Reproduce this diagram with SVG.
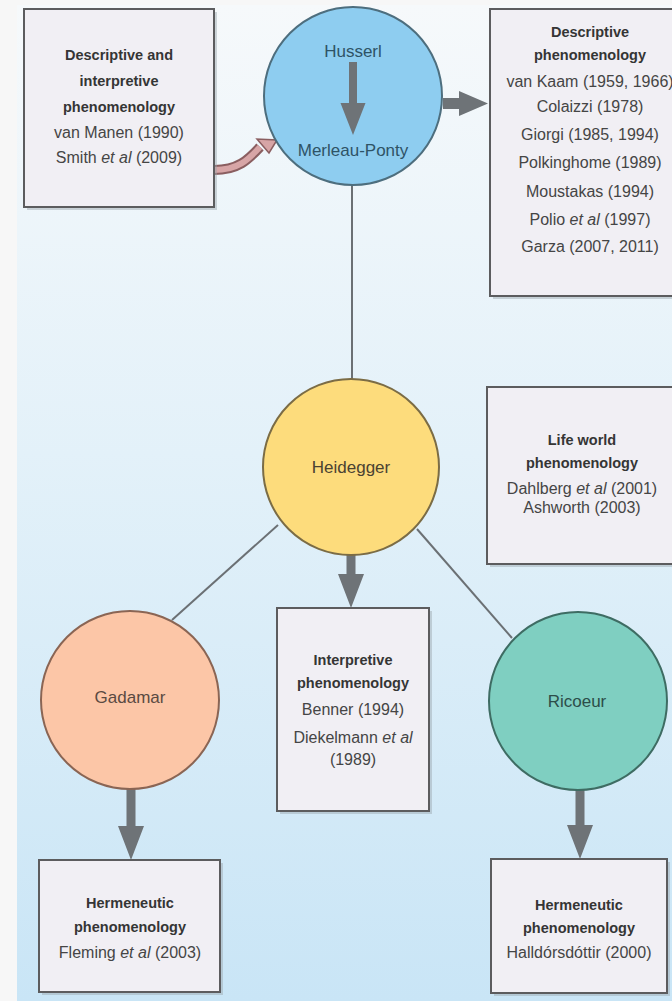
<svg xmlns="http://www.w3.org/2000/svg" width="672" height="1001" viewBox="0 0 672 1001">
<defs>
<linearGradient id="bg" x1="0" y1="0" x2="0" y2="1">
<stop offset="0" stop-color="#f6f9fb"/>
<stop offset="0.45" stop-color="#e3f1f9"/>
<stop offset="1" stop-color="#c9e5f6"/>
</linearGradient>
<style>
.box{fill:#f1eff4;stroke:#5c5c5e;stroke-width:2}
.shadow{fill:#9aa4ab;opacity:0.45}
.b{font-family:"Liberation Sans",Arial,sans-serif;font-weight:bold;font-size:14.5px;fill:#353535;text-anchor:middle}
.r{font-family:"Liberation Sans",Arial,sans-serif;font-size:16px;fill:#454545;text-anchor:middle}
.c{font-family:"Liberation Sans",Arial,sans-serif;font-size:17px;text-anchor:middle}
.ln{stroke:#6b7074;stroke-width:2;fill:none}
.ga{fill:#6e7377}
</style>
</defs>
<rect x="0" y="0" width="672" height="1001" fill="#f7f7f7"/>
<rect x="17" y="5" width="655" height="996" fill="url(#bg)"/>

<g id="connectors">
<line class="ln" x1="352" y1="185" x2="352" y2="379"/>
<line class="ln" x1="278" y1="525" x2="172" y2="620"/>
<line class="ln" x1="417" y1="529" x2="512" y2="638"/>
<polygon class="ga" points="443,98 459,98 459,91 488,103.5 459,116 459,109 443,109"/>
<polygon class="ga" points="346.5,555 355.5,555 355.5,574 364,574 351,608 338,574 346.5,574"/>
<polygon class="ga" points="126.5,789 135.5,789 135.5,826 144,826 131,860 118,826 126.5,826"/>
<polygon class="ga" points="575.5,790 584.5,790 584.5,825 593,825 580,859 567,825 575.5,825"/>
<path d="M214,170 C238,170 248,160 260,147" fill="none" stroke="#8a5e60" stroke-width="10"/>
<path d="M214,170 C238,170 248,160 260,147" fill="none" stroke="#d7a5a6" stroke-width="6"/>
<polygon points="277,140 269,153 257,139" fill="#d7a5a6" stroke="#8a5e60" stroke-width="1.5"/>
</g>

<g id="box-desc-interp">
<rect class="shadow" x="27" y="12" width="190" height="198"/>
<rect class="box" x="24" y="9" width="190" height="198"/>
<text class="b" x="119" y="60">Descriptive and</text>
<text class="b" x="119" y="86">interpretive</text>
<text class="b" x="119" y="112">phenomenology</text>
<text class="r" x="119" y="138">van Manen (1990)</text>
<text class="r" x="119" y="163">Smith <tspan font-style="italic">et al</tspan> (2009)</text>
</g>

<g id="husserl">
<circle cx="353" cy="96" r="89" fill="#8ecdf0" stroke="#4d6e7e" stroke-width="2"/>
<text class="c" x="353" y="57" fill="#2e5366">Husserl</text>
<polygon class="ga" points="349,62 357,62 357,103 365.5,103 353,135 340.5,103 349,103"/>
<text class="c" x="353" y="156" fill="#2e5366">Merleau-Ponty</text>
</g>

<g id="box-descriptive">
<rect class="shadow" x="493" y="12" width="200" height="287"/>
<rect class="box" x="490" y="9" width="200" height="287"/>
<text class="b" x="590" y="37">Descriptive</text>
<text class="b" x="590" y="60">phenomenology</text>
<text class="r" x="590" y="87">van Kaam (1959, 1966)</text>
<text class="r" x="590" y="112">Colaizzi (1978)</text>
<text class="r" x="590" y="140">Giorgi (1985, 1994)</text>
<text class="r" x="590" y="168">Polkinghome (1989)</text>
<text class="r" x="590" y="197">Moustakas (1994)</text>
<text class="r" x="590" y="225">Polio <tspan font-style="italic">et al</tspan> (1997)</text>
<text class="r" x="590" y="252">Garza (2007, 2011)</text>
</g>

<g id="heidegger">
<circle cx="351" cy="467" r="88" fill="#fddc7c" stroke="#7b6c45" stroke-width="2"/>
<text class="c" x="351" y="473" fill="#4a4232">Heidegger</text>
</g>

<g id="box-lifeworld">
<rect class="shadow" x="490" y="390" width="200" height="177"/>
<rect class="box" x="487" y="387" width="200" height="177"/>
<text class="b" x="582" y="445">Life world</text>
<text class="b" x="582" y="468">phenomenology</text>
<text class="r" x="582" y="494">Dahlberg <tspan font-style="italic">et al</tspan> (2001)</text>
<text class="r" x="582" y="513">Ashworth (2003)</text>
</g>

<g id="box-interpretive">
<rect class="shadow" x="280" y="611" width="152" height="203"/>
<rect class="box" x="277" y="608" width="152" height="203"/>
<text class="b" x="353" y="665">Interpretive</text>
<text class="b" x="353" y="688">phenomenology</text>
<text class="r" x="353" y="715">Benner (1994)</text>
<text class="r" x="353" y="743">Diekelmann <tspan font-style="italic">et al</tspan></text>
<text class="r" x="353" y="765">(1989)</text>
</g>

<g id="gadamar">
<circle cx="130" cy="700" r="89" fill="#fcc6a7" stroke="#8a6554" stroke-width="2"/>
<text class="c" x="130" y="703" fill="#5a4a42">Gadamar</text>
</g>

<g id="ricoeur">
<circle cx="578" cy="701" r="89" fill="#7fcfc1" stroke="#3e6c63" stroke-width="2"/>
<text class="c" x="577" y="707" fill="#2c4d49">Ricoeur</text>
</g>

<g id="box-hermeneutic-left">
<rect class="shadow" x="42" y="863" width="181" height="132"/>
<rect class="box" x="39" y="860" width="181" height="132"/>
<text class="b" x="130" y="908">Hermeneutic</text>
<text class="b" x="130" y="932">phenomenology</text>
<text class="r" x="130" y="958">Fleming <tspan font-style="italic">et al</tspan> (2003)</text>
</g>

<g id="box-hermeneutic-right">
<rect class="shadow" x="494" y="862" width="176" height="134"/>
<rect class="box" x="491" y="859" width="176" height="134"/>
<text class="b" x="579" y="910">Hermeneutic</text>
<text class="b" x="579" y="933">phenomenology</text>
<text class="r" x="579" y="958">Halldórsdóttir (2000)</text>
</g>
</svg>
